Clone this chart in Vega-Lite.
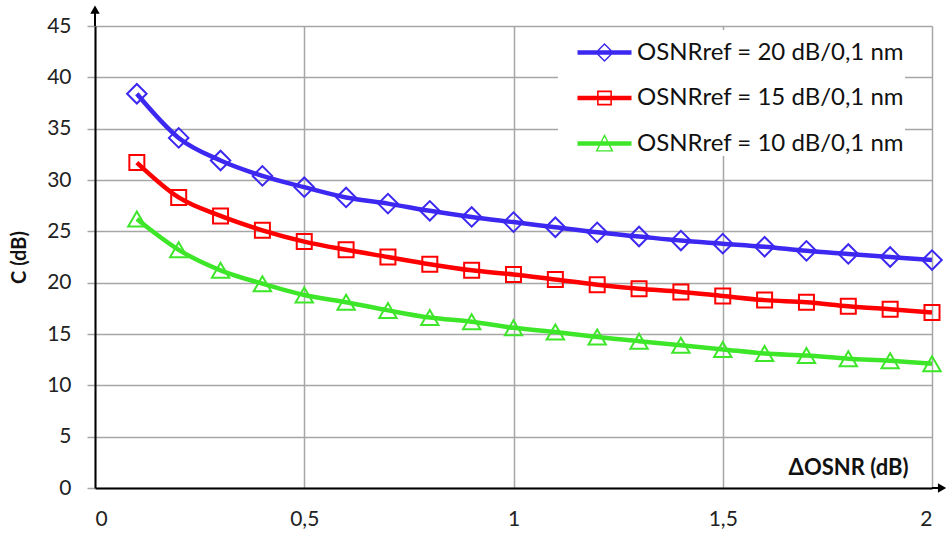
{
  "$schema": "https://vega.github.io/schema/vega-lite/v6.json",
  "autosize": {"type": "none"},
  "padding": {"left": 95, "top": 26, "right": 16, "bottom": 50},
  "width": 837,
  "height": 462,
  "background": "white",
  "config": {
    "view": {"stroke": null},
    "font": "Lato",
    "axis": {"labelFont": "Lato", "titleFont": "Lato"}
  },
  "datasets": {
    "curves": [
      {"s": "OSNRref = 20 dB/0,1 nm", "x": 0.1, "y": 38.4},
      {"s": "OSNRref = 20 dB/0,1 nm", "x": 0.2, "y": 34.1},
      {"s": "OSNRref = 20 dB/0,1 nm", "x": 0.3, "y": 31.9},
      {"s": "OSNRref = 20 dB/0,1 nm", "x": 0.4, "y": 30.4},
      {"s": "OSNRref = 20 dB/0,1 nm", "x": 0.5, "y": 29.3},
      {"s": "OSNRref = 20 dB/0,1 nm", "x": 0.6, "y": 28.3},
      {"s": "OSNRref = 20 dB/0,1 nm", "x": 0.7, "y": 27.7},
      {"s": "OSNRref = 20 dB/0,1 nm", "x": 0.8, "y": 27.0},
      {"s": "OSNRref = 20 dB/0,1 nm", "x": 0.9, "y": 26.4},
      {"s": "OSNRref = 20 dB/0,1 nm", "x": 1.0, "y": 25.9},
      {"s": "OSNRref = 20 dB/0,1 nm", "x": 1.1, "y": 25.4},
      {"s": "OSNRref = 20 dB/0,1 nm", "x": 1.2, "y": 24.9},
      {"s": "OSNRref = 20 dB/0,1 nm", "x": 1.3, "y": 24.5},
      {"s": "OSNRref = 20 dB/0,1 nm", "x": 1.4, "y": 24.1},
      {"s": "OSNRref = 20 dB/0,1 nm", "x": 1.5, "y": 23.8},
      {"s": "OSNRref = 20 dB/0,1 nm", "x": 1.6, "y": 23.5},
      {"s": "OSNRref = 20 dB/0,1 nm", "x": 1.7, "y": 23.1},
      {"s": "OSNRref = 20 dB/0,1 nm", "x": 1.8, "y": 22.8},
      {"s": "OSNRref = 20 dB/0,1 nm", "x": 1.9, "y": 22.5},
      {"s": "OSNRref = 20 dB/0,1 nm", "x": 2.0, "y": 22.2},
      {"s": "OSNRref = 15 dB/0,1 nm", "x": 0.1, "y": 31.7},
      {"s": "OSNRref = 15 dB/0,1 nm", "x": 0.2, "y": 28.3},
      {"s": "OSNRref = 15 dB/0,1 nm", "x": 0.3, "y": 26.5},
      {"s": "OSNRref = 15 dB/0,1 nm", "x": 0.4, "y": 25.1},
      {"s": "OSNRref = 15 dB/0,1 nm", "x": 0.5, "y": 24.0},
      {"s": "OSNRref = 15 dB/0,1 nm", "x": 0.6, "y": 23.2},
      {"s": "OSNRref = 15 dB/0,1 nm", "x": 0.7, "y": 22.5},
      {"s": "OSNRref = 15 dB/0,1 nm", "x": 0.8, "y": 21.8},
      {"s": "OSNRref = 15 dB/0,1 nm", "x": 0.9, "y": 21.2},
      {"s": "OSNRref = 15 dB/0,1 nm", "x": 1.0, "y": 20.8},
      {"s": "OSNRref = 15 dB/0,1 nm", "x": 1.1, "y": 20.3},
      {"s": "OSNRref = 15 dB/0,1 nm", "x": 1.2, "y": 19.8},
      {"s": "OSNRref = 15 dB/0,1 nm", "x": 1.3, "y": 19.4},
      {"s": "OSNRref = 15 dB/0,1 nm", "x": 1.4, "y": 19.1},
      {"s": "OSNRref = 15 dB/0,1 nm", "x": 1.5, "y": 18.7},
      {"s": "OSNRref = 15 dB/0,1 nm", "x": 1.6, "y": 18.3},
      {"s": "OSNRref = 15 dB/0,1 nm", "x": 1.7, "y": 18.1},
      {"s": "OSNRref = 15 dB/0,1 nm", "x": 1.8, "y": 17.7},
      {"s": "OSNRref = 15 dB/0,1 nm", "x": 1.9, "y": 17.4},
      {"s": "OSNRref = 15 dB/0,1 nm", "x": 2.0, "y": 17.1},
      {"s": "OSNRref = 10 dB/0,1 nm", "x": 0.1, "y": 26.2},
      {"s": "OSNRref = 10 dB/0,1 nm", "x": 0.2, "y": 23.2},
      {"s": "OSNRref = 10 dB/0,1 nm", "x": 0.3, "y": 21.2},
      {"s": "OSNRref = 10 dB/0,1 nm", "x": 0.4, "y": 19.9},
      {"s": "OSNRref = 10 dB/0,1 nm", "x": 0.5, "y": 18.8},
      {"s": "OSNRref = 10 dB/0,1 nm", "x": 0.6, "y": 18.1},
      {"s": "OSNRref = 10 dB/0,1 nm", "x": 0.7, "y": 17.3},
      {"s": "OSNRref = 10 dB/0,1 nm", "x": 0.8, "y": 16.6},
      {"s": "OSNRref = 10 dB/0,1 nm", "x": 0.9, "y": 16.2},
      {"s": "OSNRref = 10 dB/0,1 nm", "x": 1.0, "y": 15.6},
      {"s": "OSNRref = 10 dB/0,1 nm", "x": 1.1, "y": 15.2},
      {"s": "OSNRref = 10 dB/0,1 nm", "x": 1.2, "y": 14.7},
      {"s": "OSNRref = 10 dB/0,1 nm", "x": 1.3, "y": 14.3},
      {"s": "OSNRref = 10 dB/0,1 nm", "x": 1.4, "y": 13.9},
      {"s": "OSNRref = 10 dB/0,1 nm", "x": 1.5, "y": 13.5},
      {"s": "OSNRref = 10 dB/0,1 nm", "x": 1.6, "y": 13.1},
      {"s": "OSNRref = 10 dB/0,1 nm", "x": 1.7, "y": 12.9},
      {"s": "OSNRref = 10 dB/0,1 nm", "x": 1.8, "y": 12.6},
      {"s": "OSNRref = 10 dB/0,1 nm", "x": 1.9, "y": 12.4},
      {"s": "OSNRref = 10 dB/0,1 nm", "x": 2.0, "y": 12.1}
    ]
  },
  "layer": [
    {
      "data": {"values": [{"x": 0, "y": 0}]},
      "mark": {"type": "point", "opacity": 0},
      "encoding": {
        "x": {
          "field": "x", "type": "quantitative",
          "scale": {"domain": [0, 2], "nice": false, "zero": false},
          "axis": {
            "values": [0, 0.5, 1, 1.5, 2],
            "format": "~g",
            "labelExpr": "replace(datum.label, '.', ',')",
            "labelFontSize": 21, "labelColor": "#222", "labelPadding": 20,
            "ticks": false,
            "domainColor": "#000", "domainWidth": 2,
            "grid": true, "gridColor": "#a6a6a6", "gridWidth": 1.5,
            "title": "ΔOSNR (dB)", "titleFontSize": 22, "titleFontWeight": "bold", "titleColor": "#111",
            "titleAnchor": "end", "titleX": 813, "titleY": -14, "titleBaseline": "alphabetic"
          }
        },
        "y": {
          "field": "y", "type": "quantitative",
          "scale": {"domain": [0, 45], "nice": false},
          "axis": {
            "values": [0, 5, 10, 15, 20, 25, 30, 35, 40, 45],
            "labelFontSize": 21, "labelColor": "#222", "labelPadding": 16,
            "tickSize": 8, "tickColor": "#a6a6a6", "tickWidth": 1.5,
            "domainColor": "#000", "domainWidth": 2,
            "grid": true, "gridColor": "#a6a6a6", "gridWidth": 1.5,
            "title": "C (dB)", "titleFontSize": 20, "titleFontWeight": "bold", "titleColor": "#111",
            "titlePadding": 17
          }
        }
      }
    },
    {
      "data": {"name": "curves"},
      "mark": {"type": "line", "strokeWidth": 4.5, "interpolate": "monotone"},
      "encoding": {
        "x": {"field": "x", "type": "quantitative"},
        "y": {"field": "y", "type": "quantitative"},
        "color": {
          "field": "s", "type": "nominal",
          "scale": {
            "domain": ["OSNRref = 20 dB/0,1 nm", "OSNRref = 15 dB/0,1 nm", "OSNRref = 10 dB/0,1 nm"],
            "range": ["#3c28f0", "#ff0000", "#3ee62a"]
          },
          "legend": {
            "title": null,
            "orient": "none",
            "legendX": 463,
            "legendY": 4,
            "padding": 0,
            "fillColor": "white",
            "strokeColor": null,
            "symbolSize": 2025,
            "symbolOffset": 24,
            "labelOffset": 10,
            "rowPadding": 10.5,
            "labelFontSize": 24,
            "labelLimit": 400,
            "labelColor": "#111",
            "labelFont": "Lato",
            "encode": {
              "symbols": {
                "update": {
                  "shape": {"signal": "datum.value === 'OSNRref = 20 dB/0,1 nm' ? 'M-1.2,-0.1H1.2V0.1H-1.2Z M0,-0.42L0.42,0L0,0.42L-0.42,0Z M0,-0.33L-0.33,0L0,0.33L0.33,0Z' : datum.value === 'OSNRref = 15 dB/0,1 nm' ? 'M-1.2,-0.1H1.2V0.1H-1.2Z M-0.33,-0.33H0.33V0.33H-0.33Z M-0.26,-0.26V0.26H0.26V-0.26Z' : 'M-1.2,-0.1H1.2V0.1H-1.2Z M0,-0.42L0.4,0.36L-0.4,0.36Z M0,-0.29L-0.3,0.3L0.3,0.3Z'"},
                  "fill": {"signal": "datum.value === 'OSNRref = 20 dB/0,1 nm' ? '#3c28f0' : datum.value === 'OSNRref = 15 dB/0,1 nm' ? '#ff0000' : '#3ee62a'"},
                  "strokeWidth": {"value": 0},
                  "opacity": {"value": 1}
                }
              }
            }
          }
        }
      }
    },
    {
      "data": {"name": "curves"},
      "transform": [{"filter": "datum.s === 'OSNRref = 20 dB/0,1 nm'"}],
      "mark": {"type": "point", "shape": "diamond", "size": 380, "filled": false, "strokeWidth": 2, "opacity": 1},
      "encoding": {
        "x": {"field": "x", "type": "quantitative"},
        "y": {"field": "y", "type": "quantitative"},
        "color": {"field": "s", "type": "nominal", "legend": null}
      }
    },
    {
      "data": {"name": "curves"},
      "transform": [{"filter": "datum.s === 'OSNRref = 15 dB/0,1 nm'"}],
      "mark": {"type": "point", "shape": "square", "size": 225, "filled": false, "strokeWidth": 2, "opacity": 1},
      "encoding": {
        "x": {"field": "x", "type": "quantitative"},
        "y": {"field": "y", "type": "quantitative"},
        "color": {"field": "s", "type": "nominal", "legend": null}
      }
    },
    {
      "data": {"name": "curves"},
      "transform": [{"filter": "datum.s === 'OSNRref = 10 dB/0,1 nm'"}],
      "mark": {"type": "point", "shape": "triangle-up", "size": 300, "filled": false, "strokeWidth": 2, "opacity": 1},
      "encoding": {
        "x": {"field": "x", "type": "quantitative"},
        "y": {"field": "y", "type": "quantitative"},
        "color": {"field": "s", "type": "nominal", "legend": null}
      }
    },
    {
      "data": {"values": [{"x": 0, "y": 45, "x2": 0, "y2": 46.8}, {"x": 2, "y": 0, "x2": 2.02, "y2": 0}]},
      "mark": {"type": "rule", "color": "#000", "strokeWidth": 2},
      "encoding": {
        "x": {"field": "x", "type": "quantitative"},
        "y": {"field": "y", "type": "quantitative"},
        "x2": {"field": "x2"},
        "y2": {"field": "y2"}
      }
    },
    {
      "data": {"values": [{"x": 0, "y": 46.6}]},
      "mark": {"type": "point", "shape": "triangle-up", "filled": true, "color": "#000", "size": 90, "opacity": 1},
      "encoding": {
        "x": {"field": "x", "type": "quantitative"},
        "y": {"field": "y", "type": "quantitative"}
      }
    },
    {
      "data": {"values": [{"x": 2.024, "y": 0}]},
      "mark": {"type": "point", "shape": "triangle-right", "filled": true, "color": "#000", "size": 90, "opacity": 1},
      "encoding": {
        "x": {"field": "x", "type": "quantitative"},
        "y": {"field": "y", "type": "quantitative"}
      }
    }
  ]
}
